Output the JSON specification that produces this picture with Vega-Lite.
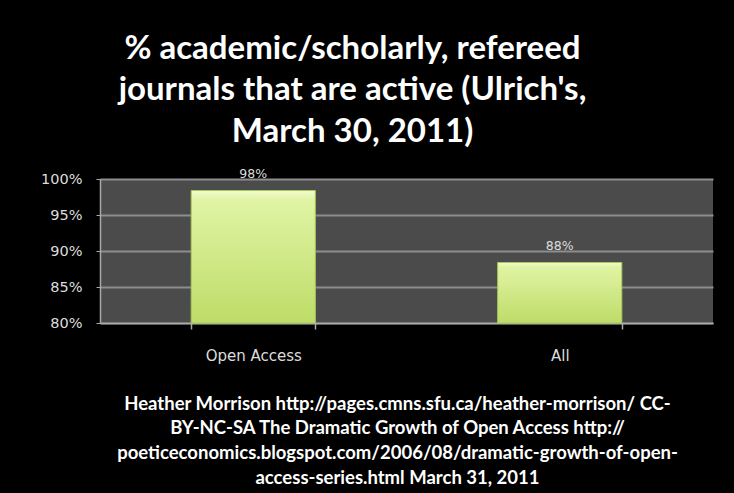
{
  "$schema": "https://vega.github.io/schema/vega-lite/v6.json",
  "autosize": {"type": "none"},
  "width": 613,
  "height": 144,
  "padding": {"left": 100, "top": 179, "right": 21, "bottom": 170},
  "background": "black",
  "title": {
    "text": ["% academic/scholarly, refereed", "journals that are active (Ulrich's,", "March 30, 2011)"],
    "color": "white",
    "font": "Lato",
    "fontWeight": "bold",
    "fontSize": 33,
    "lineHeight": 41.5,
    "anchor": "middle",
    "dx": -54,
    "offset": 19
  },
  "data": {
    "values": [
      {"category": "Open Access", "value": 0.984},
      {"category": "All", "value": 0.884}
    ]
  },
  "encoding": {
    "x": {
      "field": "category",
      "type": "nominal",
      "sort": null,
      "scale": {"paddingInner": 0.595, "paddingOuter": 0.2975},
      "axis": {
        "title": [
          "Heather Morrison http://pages.cmns.sfu.ca/heather-morrison/ CC-",
          "BY-NC-SA The Dramatic Growth of Open Access http://",
          "poeticeconomics.blogspot.com/2006/08/dramatic-growth-of-open-",
          "access-series.html March 31, 2011"
        ],
        "titleFont": "Lato",
        "titleFontWeight": "bold",
        "titleFontSize": 18.5,
        "titleColor": "white",
        "titleLineHeight": 24.8,
        "titleX": 297,
        "titleY": 71,
        "titleBaseline": "top",
        "titleAlign": "center",
        "labelFont": "DejaVu Sans",
        "labelFontSize": 15,
        "labelColor": "#dcdcdc",
        "labelPadding": 19,
        "labelAngle": 0,
        "tickBand": "extent",
        "tickSize": 6,
        "tickColor": "#aaaaaa",
        "tickWidth": 1.5,
        "domainColor": "#aaaaaa",
        "domainWidth": 1.5,
        "grid": false
      }
    },
    "y": {
      "field": "value",
      "type": "quantitative",
      "scale": {"domain": [0.8, 1], "zero": false, "nice": false},
      "axis": {
        "title": null,
        "format": ".0%",
        "values": [0.8, 0.85, 0.9, 0.95, 1],
        "grid": true,
        "gridColor": "#8d8d8d",
        "gridWidth": 2,
        "tickSize": 4,
        "tickColor": "#aaaaaa",
        "domainColor": "#aaaaaa",
        "domainWidth": 1.5,
        "labelFont": "DejaVu Sans",
        "labelFontSize": 14.5,
        "labelColor": "#dcdcdc",
        "labelPadding": 14
      }
    }
  },
  "layer": [
    {
      "mark": {
        "type": "bar",
        "color": {
          "gradient": "linear",
          "x1": 0, "y1": 0, "x2": 0, "y2": 1,
          "stops": [
            {"offset": 0, "color": "#f3fbd2"},
            {"offset": 0.07, "color": "#e0f4a4"},
            {"offset": 1, "color": "#bedc68"}
          ]
        },
        "stroke": "#a9c95a",
        "strokeWidth": 1
      },
      "encoding": {
        "y2": {"datum": 0.8}
      }
    },
    {
      "mark": {
        "type": "text",
        "baseline": "middle",
        "dy": -17,
        "font": "DejaVu Sans",
        "fontSize": 12.5,
        "color": "#dddddd"
      },
      "encoding": {
        "text": {"field": "value", "type": "quantitative", "format": ".0%"}
      }
    }
  ],
  "config": {
    "view": {"fill": "#4b4b4b", "stroke": null}
  }
}
